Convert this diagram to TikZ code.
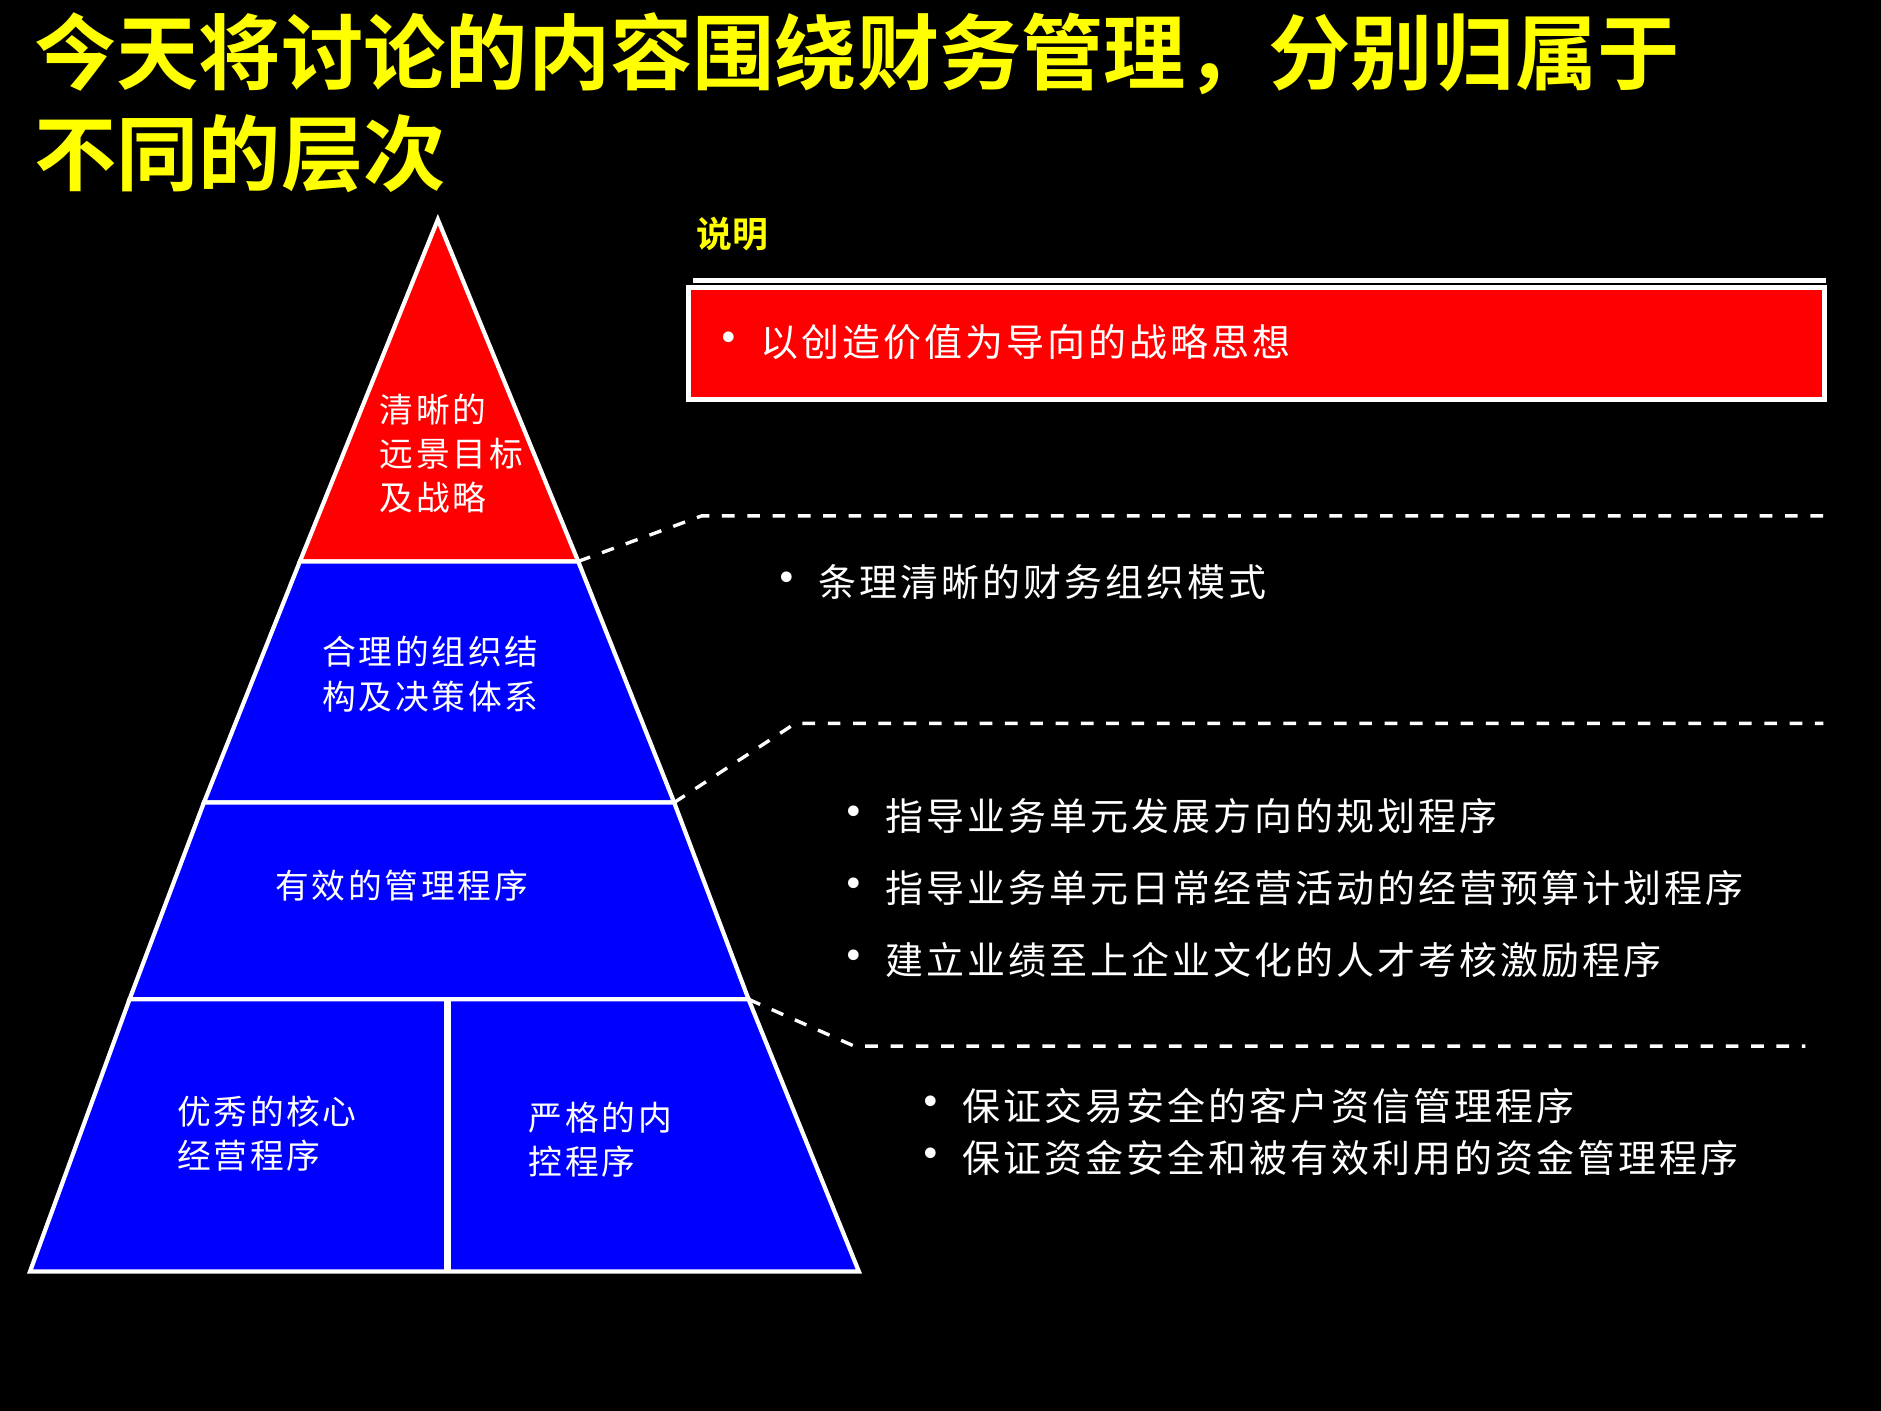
\documentclass[tikz,border=0pt]{standalone}
\usepackage{fontspec}
\setmainfont{Noto Sans CJK SC}[LetterSpace=8]
\newfontfamily\cjkb{Noto Sans CJK SC Bold}
\definecolor{ttl}{RGB}{255,255,0}
\newcommand{\bul}{{\fontsize{12pt}{12pt}\selectfont •}\,}
\begin{document}
\begin{tikzpicture}[x=0.01cm,y=-0.01cm,
 ptxt/.style={text=white,anchor=west,font=\fontsize{8pt}{10.5pt}\selectfont,align=left,inner sep=0},
 rtxt/.style={text=white,anchor=west,font=\fontsize{9pt}{12pt}\selectfont,inner sep=0},
 dashline/.style={white,dashed,line width=0.8pt},
 face/.style={draw=white,line width=1pt}]
\fill[black] (0,0) rectangle (1568,1176);
\useasboundingbox (0,0) rectangle (1568,1176);
\node[anchor=north west,text=ttl,font=\cjkb\fontsize{19.5pt}{24pt}\selectfont,align=left,inner sep=0] (title) at (28,10) {今天将讨论的内容围绕财务管理，分别归属于\\不同的层次};
% pyramid
\coordinate (apex) at (365,183);
\fill[red,face] (apex) -- (482,468) -- (250,468) -- cycle;
\fill[blue,face] (250,468) -- (482,468) -- (562,669) -- (170,669) -- cycle;
\fill[blue,face] (170,669) -- (562,669) -- (624,833) -- (108,833) -- cycle;
\fill[blue,face] (108,833) -- (624,833) -- (716,1060) -- (25,1060) -- cycle;
\draw[white,line width=1.5pt] (373,833) -- (373,1060);
\node[ptxt] (t1) at (316,378) {清晰的\\远景目标\\及战略};
\node[ptxt] (t2) at (268,562) {合理的组织结\\构及决策体系};
\node[ptxt] (t3) at (229,738) {有效的管理程序};
\node[ptxt] (t4) at (147,945) {优秀的核心\\经营程序};
\node[ptxt] (t5) at (440,950) {严格的内\\控程序};
% right side
\node[anchor=west,text=ttl,font=\cjkb\fontsize{8.5pt}{10pt}\selectfont,inner sep=0] (sm) at (580,195) {说明};
\draw[white,line width=1.2pt] (578,234) -- (1522,234);
\filldraw[fill=red,draw=white,line width=1.2pt] (574,240) rectangle (1521,333);
\node[rtxt] (r1) at (586,285) {\bul 以创造价值为导向的战略思想};
\draw[dashline] (482,468) -- (585,430) -- (1520,430);
\draw[dashline] (562,669) -- (663,603) -- (1520,603);
\draw[dashline] (624,833) -- (712,872) -- (1505,872);
\node[rtxt] (r2) at (634,485) {\bul 条理清晰的财务组织模式};
\node[rtxt] (r3) at (690,680) {\bul 指导业务单元发展方向的规划程序};
\node[rtxt] (r4) at (690,740) {\bul 指导业务单元日常经营活动的经营预算计划程序};
\node[rtxt] (r5) at (690,800) {\bul 建立业绩至上企业文化的人才考核激励程序};
\node[rtxt] (r6) at (754,922) {\bul 保证交易安全的客户资信管理程序};
\node[rtxt] (r7) at (754,965) {\bul 保证资金安全和被有效利用的资金管理程序};
\end{tikzpicture}
\end{document}
